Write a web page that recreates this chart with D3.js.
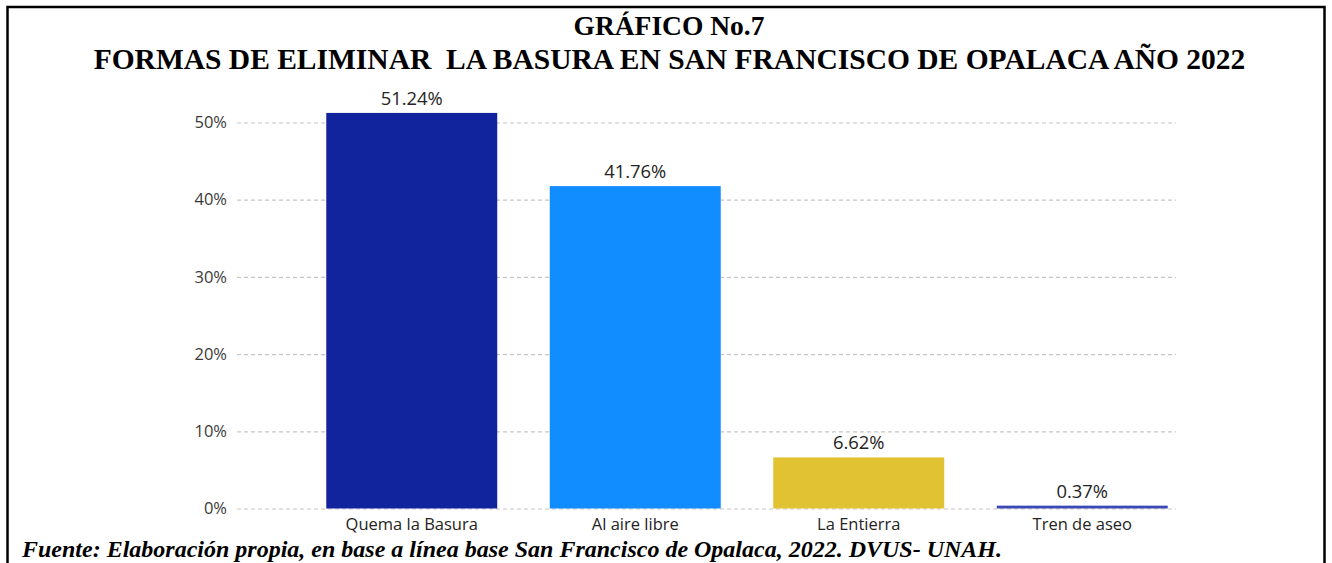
<!DOCTYPE html>
<html>
<head>
<meta charset="utf-8">
<script src="https://cdn.jsdelivr.net/npm/d3@7"></script>
<style>
    body { margin: 0; background: #fff; }
    text { white-space: pre; }
</style>
</head>
<body>
<div id="chart"></div>
<script>
// values
const categories = ['Quema la Basura', 'Al aire libre', 'La Entierra', 'Tren de aseo'];
const values = [51.24, 41.76, 6.62, 0.37];
const yTicks = [0, 10, 20, 30, 40, 50];
const titleLines = ['GRÁFICO No.7', 'FORMAS DE ELIMINAR  LA BASURA EN SAN FRANCISCO DE OPALACA AÑO 2022'];
const source = 'Fuente: Elaboración propia, en base a línea base San Francisco de Opalaca, 2022. DVUS- UNAH.';

const palette = ['#12239E', '#118DFF', '#E1C233', '#3A49B3'];

const WIDTH = 1332, HEIGHT = 563;
const PLOT = { LEFT: 237, RIGHT: 1176, TOP: 122.5, BOTTOM: 508.5 };
const UI_FONT = '"Segoe UI", "Open Sans", "Noto Sans", sans-serif';
const SERIF = '"Liberation Serif", "Times New Roman", serif';

const svg = d3.select('#chart')
    .append('svg')
    .attr('width', WIDTH)
    .attr('height', HEIGHT);

// outer frame
svg.append('rect')
    .attr('x', 7.5)
    .attr('y', 7)
    .attr('width', 1317)
    .attr('height', 600)
    .attr('fill', 'none')
    .attr('stroke', '#000')
    .attr('stroke-width', 2.5);

// titles
svg.append('text')
    .attr('x', 669)
    .attr('y', 35)
    .attr('text-anchor', 'middle')
    .style('font-family', SERIF)
    .style('font-weight', 'bold')
    .style('font-size', '27.5px')
    .text(titleLines[0]);

svg.append('text')
    .attr('x', 669.5)
    .attr('y', 69)
    .attr('text-anchor', 'middle')
    .style('font-family', SERIF)
    .style('font-weight', 'bold')
    .style('font-size', '29.5px')
    .text(titleLines[1]);

const x = d3.scaleBand()
    .domain(categories)
    .range([300, 1194])
    .paddingInner(0.235)
    .paddingOuter(0.1175);

const y = d3.scaleLinear()
    .domain([0, 50])
    .range([PLOT.BOTTOM, PLOT.TOP]);

const color = d3.scaleOrdinal()
    .domain(categories)
    .range(palette);

// y axis + dashed grid
const yAxisGroup = svg.append('g')
    .attr('transform', `translate(${PLOT.LEFT}, 0)`)
    .call(d3.axisLeft(y)
        .tickValues(yTicks)
        .tickSize(-(PLOT.RIGHT - PLOT.LEFT))
        .tickPadding(10)
        .tickFormat(d => d + '%'));

yAxisGroup.select('.domain').remove();
yAxisGroup.selectAll('.tick line')
    .attr('stroke', '#C8C6C4')
    .attr('stroke-width', 1.2)
    .attr('stroke-dasharray', '4,3');
yAxisGroup.selectAll('.tick text')
    .attr('fill', '#3B3A39')
    .style('font-family', UI_FONT)
    .style('font-size', '16.5px');

// bars
svg.selectAll('rect.bar')
    .data(values)
    .enter()
    .append('rect')
    .attr('class', 'bar')
    .attr('x', (d, i) => x(categories[i]))
    .attr('y', d => y(d))
    .attr('width', x.bandwidth())
    .attr('height', d => y(0) - y(d))
    .attr('fill', (d, i) => color(categories[i]));

// data labels
svg.selectAll('text.label')
    .data(values)
    .enter()
    .append('text')
    .attr('class', 'label')
    .attr('x', (d, i) => x(categories[i]) + x.bandwidth() / 2)
    .attr('y', d => y(d) - 8)
    .attr('text-anchor', 'middle')
    .attr('fill', '#252423')
    .style('font-family', UI_FONT)
    .style('font-size', '18.4px')
    .text(d => d.toFixed(2) + '%');

// x axis category labels
const xAxisGroup = svg.append('g')
    .attr('transform', `translate(0, ${PLOT.BOTTOM})`)
    .call(d3.axisBottom(x).tickSize(0).tickPadding(10));

xAxisGroup.select('.domain').remove();
xAxisGroup.selectAll('.tick text')
    .attr('fill', '#252423')
    .style('font-family', UI_FONT)
    .style('font-size', '16.5px');

// source note
svg.append('text')
    .attr('x', 22)
    .attr('y', 557)
    .style('font-family', SERIF)
    .style('font-weight', 'bold')
    .style('font-style', 'italic')
    .style('font-size', '24px')
    .text(source);
</script>
</body>
</html>
